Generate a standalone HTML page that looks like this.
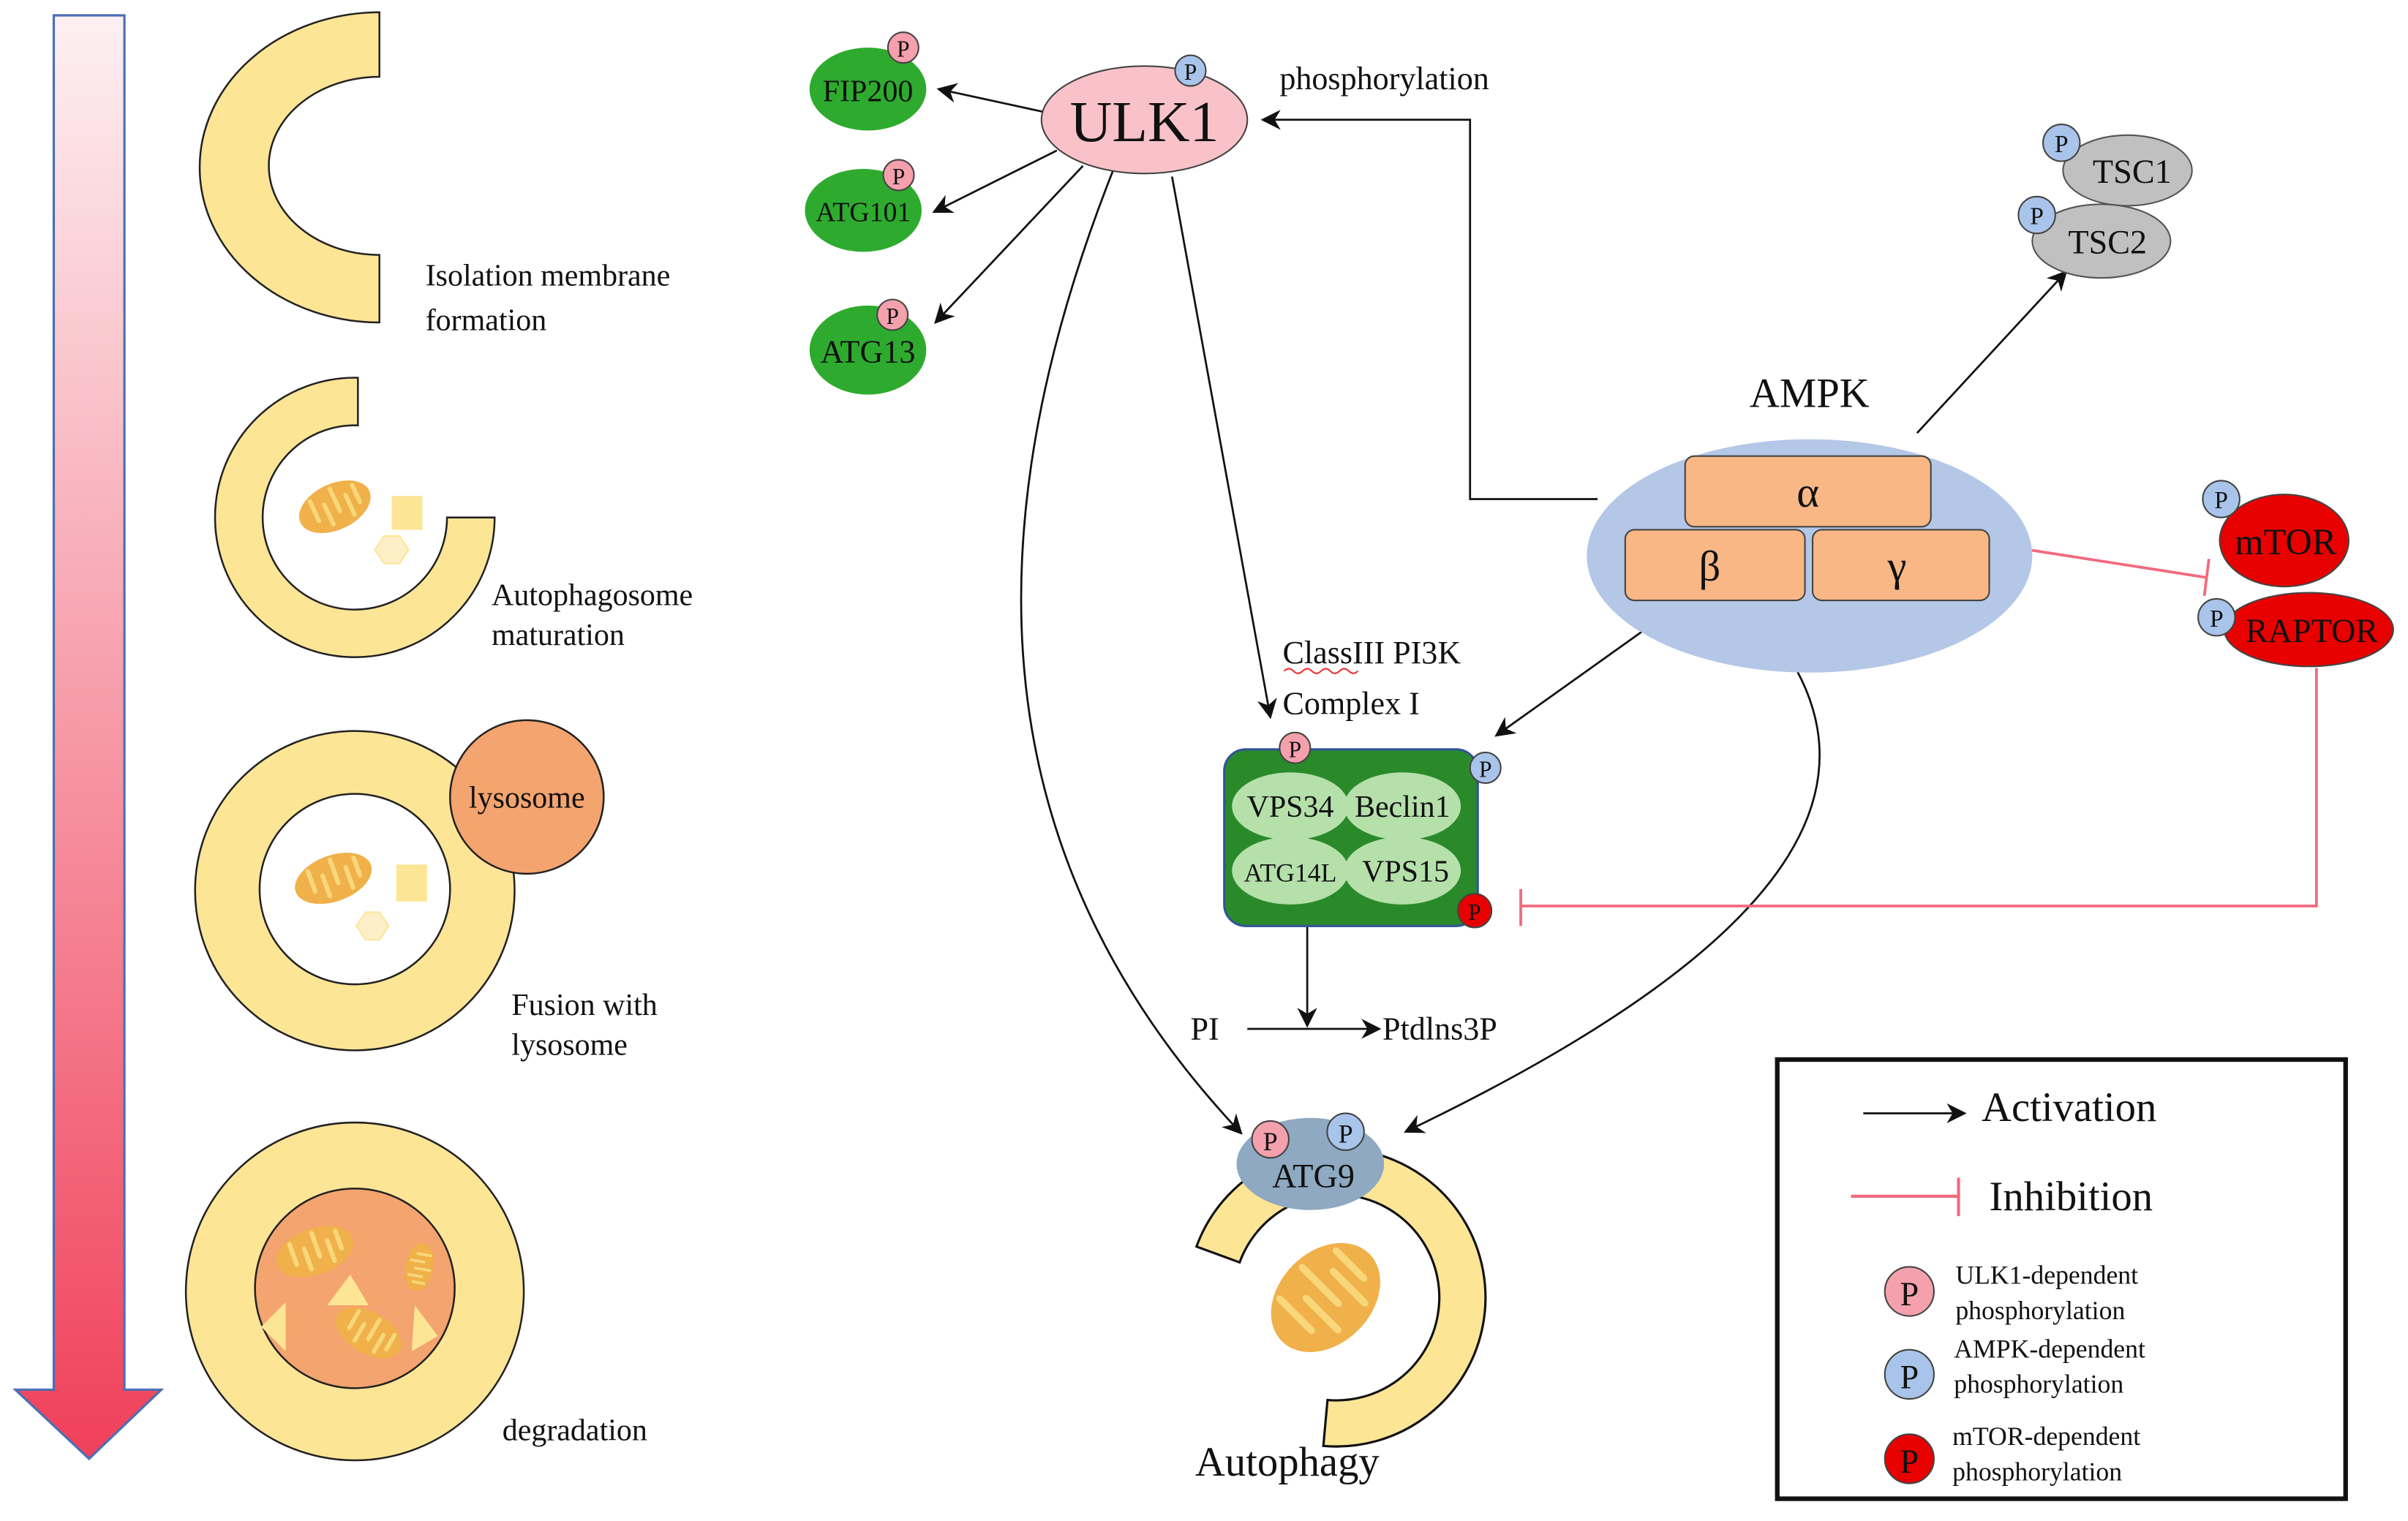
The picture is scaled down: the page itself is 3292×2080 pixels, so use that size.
<!DOCTYPE html>
<html><head><meta charset="utf-8"><style>
html,body{margin:0;padding:0;background:#fff;}
svg{display:block;font-family:"Liberation Serif","Times New Roman","DejaVu Serif",serif;}
text{font-family:"Liberation Serif","Times New Roman","DejaVu Serif",serif;fill:#111;}
</style></head><body>
<svg width="3292" height="2080" viewBox="0 0 1567.6 990.5" preserveAspectRatio="none" xmlns="http://www.w3.org/2000/svg" font-family="Liberation Serif, DejaVu Serif, serif">
<defs>
<linearGradient id="g" x1="0" y1="0" x2="0" y2="1">
<stop offset="0" stop-color="#fdf0f2"/><stop offset="1" stop-color="#f0405a"/>
</linearGradient>
<marker id="a2" viewBox="0 0 10 10" refX="9" refY="5" markerWidth="13" markerHeight="13" orient="auto" markerUnits="userSpaceOnUse"><path d="M0,0 L10,5 L0,10 L3,5 z" fill="#111"/></marker>
<g id="mito"><ellipse cx="0" cy="0" rx="26" ry="15" fill="#f0b14a"/><g stroke="#f8d77a" stroke-width="3" stroke-linecap="round"><line x1="-14" y1="-10" x2="-14" y2="4"/><line x1="-6" y1="10" x2="-6" y2="-4"/><line x1="2" y1="-12" x2="2" y2="4"/><line x1="10" y1="10" x2="10" y2="-4"/><line x1="17" y1="-8" x2="17" y2="4"/></g></g>
</defs>
<!-- big arrow -->
<path d="M35,10 L81,10 L81,905 L105,905 L58,950 L10,905 L35,905 Z" fill="url(#g)" stroke="#4a6fb5" stroke-width="1.5"/>
<!-- crescent 1 -->
<path d="M247,8 A117,101 0 0 0 247,210 L247,166 A72,58 0 0 1 247,50 Z" fill="#fde596" stroke="#222" stroke-width="1.2"/>
<text x="277" y="186" font-size="20">Isolation membrane</text>
<text x="277" y="215" font-size="20">formation</text>
<!-- crescent 2 -->
<path d="M233,246 A91,91 0 1 0 322,337 L291,337 A60,60 0 1 1 233,277 Z" fill="#fde596" stroke="#222" stroke-width="1.2"/>
<use href="#mito" transform="translate(218,330) rotate(-25) scale(0.95,1)"/>
<rect x="255" y="323" width="20" height="22" fill="#fde596"/>
<polygon points="244,358 250,349 260,349 266,358 260,367 250,367" fill="#fdf0c8" stroke="#fde596"/>
<text x="320" y="394" font-size="20">Autophagosome</text>
<text x="320" y="420" font-size="20">maturation</text>
<!-- circle 3 -->
<circle cx="231" cy="580" r="104" fill="#fde596" stroke="#222" stroke-width="1.2"/>
<circle cx="231" cy="579" r="62" fill="#fff" stroke="#222" stroke-width="1.2"/>
<circle cx="343" cy="519" r="50" fill="#f4a46e" stroke="#222" stroke-width="1.2"/>
<text x="343" y="526" font-size="20" text-anchor="middle">lysosome</text>
<use href="#mito" transform="translate(217,572) rotate(-20) scale(1,1)"/>
<rect x="258" y="563" width="20" height="24" fill="#fde596"/>
<polygon points="232,603 238,594 247,594 253,603 247,612 238,612" fill="#fdf0c8" stroke="#fde596"/>
<text x="333" y="661" font-size="20">Fusion with</text>
<text x="333" y="687" font-size="20">lysosome</text>
<!-- circle 4 -->
<circle cx="231" cy="841" r="110" fill="#fde596" stroke="#222" stroke-width="1.2"/>
<circle cx="231" cy="839" r="65" fill="#f4a46e" stroke="#222" stroke-width="1.2"/>
<use href="#mito" transform="translate(205,815) rotate(-20)"/>
<use href="#mito" transform="translate(240,868) rotate(30) scale(0.9)"/>
<use href="#mito" transform="translate(273,825) rotate(100) scale(0.6)"/>
<polygon points="213,850 228,830 240,850" fill="#fde596"/>
<polygon points="170,864 186,848 186,880" fill="#fde596"/>
<polygon points="270,850 285,870 268,880" fill="#fde596"/>
<text x="327" y="938" font-size="20">degradation</text>

<!-- connectors -->
<g stroke="#111" stroke-width="1.3" fill="none">
<line x1="680" y1="73" x2="611" y2="58" marker-end="url(#a2)"/>
<line x1="688" y1="98" x2="608" y2="138" marker-end="url(#a2)"/>
<line x1="705" y1="108" x2="609" y2="210" marker-end="url(#a2)"/>
<polyline points="1040,325 957,325 957,78 822,78" marker-end="url(#a2)"/>
<line x1="1248" y1="282" x2="1345" y2="177" marker-end="url(#a2)"/>
<line x1="763" y1="115" x2="827" y2="467" marker-end="url(#a2)"/>
<line x1="1096" y1="392" x2="974" y2="479" marker-end="url(#a2)"/>
<line x1="851" y1="603" x2="851" y2="668" marker-end="url(#a2)"/>
<line x1="812" y1="670" x2="898" y2="670" marker-end="url(#a2)"/>
<path d="M725,110 C630,350 640,560 808,738" marker-end="url(#a2)"/>
<path d="M1137,393 C1240,500 1180,610 915,737" marker-end="url(#a2)"/>
</g>
<g stroke="#f26a7e" stroke-width="1.8" fill="none">
<line x1="1314" y1="357" x2="1436" y2="376"/>
<line x1="1438" y1="364" x2="1435" y2="388"/>
<polyline points="1508,435 1508,590 990,590"/>
<line x1="990" y1="579" x2="990" y2="603"/>
</g>

<!-- ULK1 complex -->
<ellipse cx="745" cy="78" rx="67" ry="35" fill="#f9c2c9" stroke="#444"/>
<text x="745" y="92" font-size="38" text-anchor="middle">ULK1</text>
<circle cx="775" cy="46" r="10" fill="#a9c4ea" stroke="#444"/><text x="775" y="52" font-size="15" text-anchor="middle">P</text>
<ellipse cx="565" cy="58" rx="38" ry="27" fill="#2eab2e"/>
<text x="565" y="66" font-size="20" text-anchor="middle">FIP200</text>
<circle cx="588" cy="31" r="10" fill="#f4a0ad" stroke="#444"/><text x="588" y="37" font-size="15" text-anchor="middle">P</text>
<ellipse cx="562" cy="137" rx="38" ry="27" fill="#2eab2e"/>
<text x="562" y="144" font-size="18" text-anchor="middle">ATG101</text>
<circle cx="585" cy="114" r="10" fill="#f4a0ad" stroke="#444"/><text x="585" y="120" font-size="15" text-anchor="middle">P</text>
<ellipse cx="565" cy="228" rx="38" ry="29" fill="#2eab2e"/>
<text x="565" y="236" font-size="21" text-anchor="middle">ATG13</text>
<circle cx="581" cy="205" r="10" fill="#f4a0ad" stroke="#444"/><text x="581" y="211" font-size="15" text-anchor="middle">P</text>
<text x="833" y="58" font-size="21">phosphorylation</text>

<!-- TSC -->
<ellipse cx="1385" cy="111" rx="42" ry="23" fill="#c0c0c0" stroke="#555"/>
<text x="1388" y="119" font-size="22" text-anchor="middle">TSC1</text>
<ellipse cx="1368" cy="157" rx="45" ry="24" fill="#c0c0c0" stroke="#555"/>
<text x="1372" y="165" font-size="22" text-anchor="middle">TSC2</text>
<circle cx="1342" cy="93" r="12" fill="#a9c4ea" stroke="#444"/><text x="1342" y="99" font-size="16" text-anchor="middle">P</text>
<circle cx="1326" cy="140" r="12" fill="#a9c4ea" stroke="#444"/><text x="1326" y="146" font-size="16" text-anchor="middle">P</text>

<!-- AMPK -->
<text x="1178" y="265" font-size="27" text-anchor="middle">AMPK</text>
<ellipse cx="1178" cy="362" rx="145" ry="76" fill="#b4c7e7"/>
<rect x="1097" y="297" width="160" height="46" rx="6" fill="#f8b785" stroke="#444"/>
<text x="1177" y="330" font-size="28" text-anchor="middle">α</text>
<rect x="1058" y="345" width="117" height="46" rx="6" fill="#f8b785" stroke="#444"/>
<text x="1113" y="378" font-size="28" text-anchor="middle">β</text>
<rect x="1180" y="345" width="115" height="46" rx="6" fill="#f8b785" stroke="#444"/>
<text x="1235" y="378" font-size="28" text-anchor="middle">γ</text>

<!-- mTOR -->
<ellipse cx="1487" cy="352" rx="42" ry="30" fill="#e80000" stroke="#444"/>
<text x="1488" y="361" font-size="24" text-anchor="middle">mTOR</text>
<ellipse cx="1503" cy="410" rx="55" ry="24" fill="#e80000" stroke="#444"/>
<text x="1505" y="418" font-size="22" text-anchor="middle">RAPTOR</text>
<circle cx="1446" cy="325" r="12" fill="#a9c4ea" stroke="#444"/><text x="1446" y="331" font-size="16" text-anchor="middle">P</text>
<circle cx="1443" cy="402" r="12" fill="#a9c4ea" stroke="#444"/><text x="1443" y="408" font-size="16" text-anchor="middle">P</text>

<!-- PI3K complex -->
<text x="835" y="432" font-size="21">ClassIII PI3K</text>
<path d="M836,437 q3,-3 6,0 t6,0 t6,0 t6,0 t6,0 t6,0 t6,0 t6,0" stroke="#e33" stroke-width="1" fill="none"/>
<text x="835" y="465" font-size="21">Complex I</text>
<rect x="797" y="488" width="165" height="115" rx="14" fill="#2a8a2a" stroke="#2f5597" stroke-width="1.5"/>
<ellipse cx="840" cy="525" rx="38" ry="22" fill="#b5e0aa"/>
<ellipse cx="913" cy="525" rx="38" ry="22" fill="#b5e0aa"/>
<ellipse cx="840" cy="567" rx="38" ry="22" fill="#b5e0aa"/>
<ellipse cx="913" cy="567" rx="38" ry="22" fill="#b5e0aa"/>
<text x="840" y="532" font-size="20" text-anchor="middle">VPS34</text>
<text x="913" y="532" font-size="20" text-anchor="middle">Beclin1</text>
<text x="840" y="574" font-size="17" text-anchor="middle">ATG14L</text>
<text x="915" y="574" font-size="20" text-anchor="middle">VPS15</text>
<circle cx="843" cy="487" r="10" fill="#f4a0ad" stroke="#444"/><text x="843" y="493" font-size="15" text-anchor="middle">P</text>
<circle cx="967" cy="500" r="10" fill="#a9c4ea" stroke="#444"/><text x="967" y="506" font-size="15" text-anchor="middle">P</text>
<circle cx="960" cy="593" r="11" fill="#e80000" stroke="#444"/><text x="960" y="599" font-size="15" text-anchor="middle">P</text>
<text x="775" y="677" font-size="21">PI</text>
<text x="900" y="677" font-size="21">Ptdlns3P</text>

<!-- ATG9 and autophagosome -->
<path d="M778.9,811.8 A97,97 0 1 1 861.5,941.6 L864.2,911.7 A67,67 0 1 0 807,822.1 Z" fill="#fde596" stroke="#111" stroke-width="1.5"/>
<use href="#mito" transform="translate(863,845) rotate(-45) scale(1.55,2)"/>
<ellipse cx="853" cy="758" rx="48" ry="30" fill="#8ea9c1"/>
<text x="855" y="773" font-size="22" text-anchor="middle">ATG9</text>
<circle cx="827" cy="742" r="12" fill="#f4a0ad" stroke="#444"/><text x="827" y="749" font-size="17" text-anchor="middle">P</text>
<circle cx="876" cy="737" r="12" fill="#a9c4ea" stroke="#444"/><text x="876" y="744" font-size="17" text-anchor="middle">P</text>
<text x="838" y="961" font-size="27" text-anchor="middle">Autophagy</text>

<!-- legend -->
<rect x="1157" y="690" width="370" height="286" fill="none" stroke="#111" stroke-width="3"/>
<line x1="1213" y1="725" x2="1279" y2="725" stroke="#111" stroke-width="1.3" marker-end="url(#a2)"/>
<text x="1290" y="730" font-size="27">Activation</text>
<line x1="1205" y1="779" x2="1275" y2="779" stroke="#f26a7e" stroke-width="2"/>
<line x1="1275" y1="767" x2="1275" y2="792" stroke="#f26a7e" stroke-width="2"/>
<text x="1295" y="788" font-size="27">Inhibition</text>
<circle cx="1243" cy="841" r="16" fill="#f4a0ad" stroke="#444"/><text x="1243" y="850" font-size="22" text-anchor="middle">P</text>
<circle cx="1243" cy="895" r="16" fill="#a9c4ea" stroke="#444"/><text x="1243" y="904" font-size="22" text-anchor="middle">P</text>
<circle cx="1243" cy="950" r="16" fill="#e80000" stroke="#444"/><text x="1243" y="959" font-size="22" text-anchor="middle">P</text>
<text x="1273" y="836" font-size="17">ULK1-dependent</text>
<text x="1273" y="859" font-size="17">phosphorylation</text>
<text x="1272" y="884" font-size="17">AMPK-dependent</text>
<text x="1272" y="907" font-size="17">phosphorylation</text>
<text x="1271" y="941" font-size="17">mTOR-dependent</text>
<text x="1271" y="964" font-size="17">phosphorylation</text>
</svg>
</body></html>
